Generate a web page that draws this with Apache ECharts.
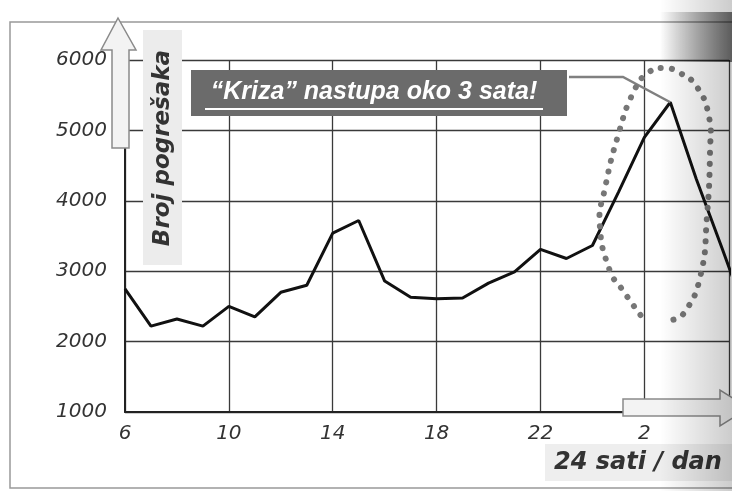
<!DOCTYPE html>
<html><head><meta charset="utf-8">
<script src="https://cdn.jsdelivr.net/npm/echarts@6/dist/echarts.min.js"></script>
<style>html,body{margin:0;padding:0;background:#fff;overflow:hidden}#c{width:732px;height:491px}</style>
</head><body><div id="c"></div>
<script>
// ---- data ----
const hours  = [6,7,8,9,10,11,12,13,14,15,16,17,18,19,20,21,22,23,24,25,26,27,28,29,30];
const errors = [2750,2220,2320,2220,2500,2350,2700,2800,3540,3720,2860,2630,2610,2620,2830,2990,3310,3180,3365,4120,4900,5400,4310,3320,2300];
const xTickValues = [6,10,14,18,22,26];
const xTickLabels = ['6','10','14','18','22','2'];
const yTicks = [1000,2000,3000,4000,5000,6000];
const titleText = '\u201CKriza\u201D nastupa oko 3 sata!';
const yName = 'Broj pogrešaka';
const xName = '24 sati / dan';
const peakHour = 27, peakValue = 5400;
// dotted loop around the crisis peak, in (hour, errors)
const loopHours  = [25.85,25.16,24.66,24.28,24.47,24.97,25.62,26.19,26.77,27.38,28.03,28.49,28.53,28.41,28.15,27.53,27.07];
const loopValues = [2378,2733,3017,3685,4153,4906,5574,5830,5886,5815,5616,5190,4722,3770,2918,2406,2307];

const chart = echarts.init(document.getElementById('c'), null, {renderer:'canvas'});
const labelFont = {fontFamily:'DejaVu Sans', fontStyle:'italic', fontSize:20, color:'#333'};
chart.setOption({
  animation:false,
  backgroundColor:'#fff',
  grid:{left:125, top:60, bottom:79, right:0, containLabel:false},
  xAxis:{type:'value', min:6, max:29.26, interval:4,
    axisLine:{show:true, lineStyle:{color:'#222', width:2}},
    axisTick:{show:false},
    splitLine:{show:true, lineStyle:{color:'#3a3a3a', width:1.3}},
    axisLabel:Object.assign({margin:12, formatter:function(v){const i=xTickValues.indexOf(v);return i<0?'':xTickLabels[i];}}, labelFont)},
  yAxis:{type:'value', min:yTicks[0], max:yTicks[yTicks.length-1], interval:1000,
    axisLine:{show:true, lineStyle:{color:'#222', width:2}},
    axisTick:{show:false},
    splitLine:{show:true, lineStyle:{color:'#3a3a3a', width:1.3}},
    axisLabel:Object.assign({margin:18, formatter:function(v){return yTicks.indexOf(v)<0?'':String(v);}}, labelFont)},
  series:[{type:'line', data:hours.map((h,i)=>[h,errors[i]]), symbol:'none', clip:true,
    lineStyle:{color:'#111', width:3}, z:5}]
});

const peakPx = chart.convertToPixel({gridIndex:0}, [peakHour, peakValue]);
const loopPts = loopHours.map((h,i)=>chart.convertToPixel({gridIndex:0}, [h, loopValues[i]]));

chart.setOption({graphic:[
  // outer frame
  {type:'rect', z:-10, shape:{x:10,y:22,width:740,height:466}, style:{fill:'none', stroke:'#999', lineWidth:1.5}},
  // y-axis name box
  {type:'rect', z:1, shape:{x:143,y:30,width:39,height:235}, style:{fill:'#ececec'}},
  {type:'text', z:20, x:163, y:148, rotation:Math.PI/2,
    style:{text:yName, font:'italic bold 23px "DejaVu Sans"', fill:'#333', align:'center', verticalAlign:'middle'}},
  // y-axis arrow
  {type:'polygon', z:30, shape:{points:[[118,18],[136,50],[129,50],[129,148],[112,148],[112,50],[101,50]]},
    style:{fill:'#f3f3f3', stroke:'#8a8a8a', lineWidth:1.5}},
  // x-axis arrow
  {type:'polygon', z:30, shape:{points:[[623,399],[720,399],[720,390],[748,408],[720,426],[720,416],[623,416]]},
    style:{fill:'#f3f3f3', stroke:'#8a8a8a', lineWidth:1.5}},
  // x name box
  {type:'rect', z:1, shape:{x:545,y:444,width:190,height:37}, style:{fill:'#eeeeee'}},
  {type:'text', z:20, x:554, y:463,
    style:{text:xName, font:'italic bold 24px "DejaVu Sans"', fill:'#333', align:'left', verticalAlign:'middle'}},
  // title box
  {type:'rect', z:20, shape:{x:191,y:70,width:376,height:46}, style:{fill:'#6b6b6b'}},
  {type:'text', z:21, x:374, y:92,
    style:{text:titleText, font:'italic bold 25px "Liberation Sans"', fill:'#fff', align:'center', verticalAlign:'middle'}},
  {type:'line', z:21, shape:{x1:205,y1:109,x2:543,y2:109}, style:{stroke:'#fff', lineWidth:2}},
  // leader line
  {type:'polyline', z:21, shape:{points:[[569,77],[623,77],peakPx]}, style:{stroke:'#808080', lineWidth:2.5, fill:'none'}},
  // dotted loop
  {type:'polyline', z:22, shape:{points:loopPts, smooth:0.5},
    style:{stroke:'#777', lineWidth:6, lineDash:[0.1,11], lineCap:'round', fill:'none'}},
  // scan shading on the right
  {type:'rect', z:40, silent:true, shape:{x:660,y:0,width:72,height:491},
    style:{fill:new echarts.graphic.LinearGradient(0,0,1,0,[{offset:0,color:'rgba(0,0,0,0)'},{offset:1,color:'rgba(0,0,0,0.2)'}])}},
  {type:'rect', z:41, silent:true, shape:{x:660,y:12,width:72,height:50},
    style:{fill:new echarts.graphic.LinearGradient(0,0,1,0,[{offset:0,color:'rgba(0,0,0,0)'},{offset:1,color:'rgba(0,0,0,0.55)'}])}}
]});
</script></body></html>
